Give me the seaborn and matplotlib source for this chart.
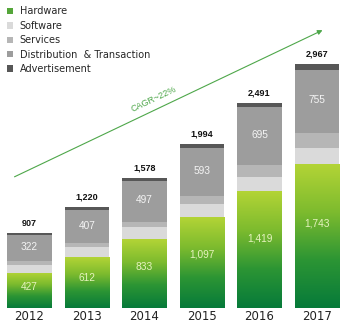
import matplotlib
matplotlib.use("Agg")
import matplotlib.pyplot as plt
import seaborn as sns
import numpy as np
import pandas as pd
from matplotlib.colors import LinearSegmentedColormap
from matplotlib.patches import Patch

years = ["2012", "2013", "2014", "2015", "2016", "2017"]
hardware = [427, 612, 833, 1097, 1419, 1743]
software = [95, 125, 148, 160, 170, 200]
services = [45, 48, 65, 95, 150, 185]
distribution = [322, 407, 497, 593, 695, 755]
advertisement = [18, 28, 35, 49, 57, 84]
totals = [907, 1220, 1578, 1994, 2491, 2967]
series_names = ["Hardware", "Software", "Services", "Distribution  & Transaction", "Advertisement"]
cagr_label = "CAGR~22%"

sns.set_theme(style="white")
plt.rcParams['font.family'] = ['DejaVu Sans']

df = pd.DataFrame({"year": years, "Hardware": hardware, "Software": software,
                   "Services": services, "Distribution": distribution,
                   "Advertisement": advertisement})
df["c_hw"] = df["Hardware"]
df["c_sw"] = df["c_hw"] + df["Software"]
df["c_sv"] = df["c_sw"] + df["Services"]
df["c_di"] = df["c_sv"] + df["Distribution"]
df["c_ad"] = df["c_di"] + df["Advertisement"]

colors = {"hw": "#55a63a", "sw": "#dadada", "sv": "#b6b6b6", "di": "#9d9d9d", "ad": "#575757"}

fig = plt.figure(figsize=(3.5, 3.28), dpi=100)
ax = fig.add_axes([0.002, 0.062, 0.986, 0.938])

for col, key in [("c_ad", "ad"), ("c_di", "di"), ("c_sv", "sv"), ("c_sw", "sw"), ("c_hw", "hw")]:
    sns.barplot(data=df, x="year", y=col, color=colors[key], width=0.78, linewidth=0,
                saturation=1, errorbar=None, ax=ax)

# gradient fill for hardware bars
cmap = LinearSegmentedColormap.from_list("hw", ["#067a3a", "#2c9534", "#7dbb2e", "#b3d436"])
grad = np.linspace(0, 1, 256).reshape(-1, 1)
hw_patches = ax.patches[-len(years):]
for p in hw_patches:
    x0, y0 = p.get_x(), p.get_y()
    w, h = p.get_width(), p.get_height()
    im = ax.imshow(grad, extent=[x0, x0 + w, y0, y0 + h], origin="lower", aspect="auto",
                   cmap=cmap, zorder=p.get_zorder() + 0.1)
    im.set_clip_path(p)

ax.set_xlim(-0.5, len(years) - 0.5)
ax.set_ylim(0, 3740)

lab_font = ['Liberation Sans', 'DejaVu Sans']
for i in range(len(years)):
    ax.text(i, totals[i] + 120, f"{totals[i]:,}", ha="center", va="center", family=lab_font,
            fontsize=6.5, fontweight="bold", color="#111111", zorder=10)
    ax.text(i, hardware[i] * 0.59, f"{hardware[i]:,}", ha="center", va="center", family=lab_font,
            fontsize=7.3, color="#e6f3bf", zorder=10)
    base = df["c_sv"][i]
    ax.text(i, base + distribution[i] * 0.52, f"{distribution[i]:,}", ha="center", va="center",
            family=lab_font, fontsize=7.3, color="#f4f4f4", zorder=10)

ax.set_xlabel("")
ax.set_ylabel("")
ax.set_yticks([])
ax.tick_params(axis="x", length=0, labelsize=8.5, pad=2, colors="#222222")
sns.despine(ax=ax, left=True, bottom=True)

# CAGR arrow
ax.annotate("", xy=(325, 299), xytext=(12, 150), xycoords="figure pixels",
            textcoords="figure pixels",
            arrowprops=dict(arrowstyle="-|>", color="#4ea74a", lw=0.8, mutation_scale=7))
fig.text(154 / 350, 229 / 328, cagr_label, rotation=25.4, ha="center", va="center",
         fontsize=6.5, color="#4ea74a", family=lab_font)

handles = [Patch(facecolor=c, edgecolor="none") for c in
           [colors["hw"], colors["sw"], colors["sv"], colors["di"], colors["ad"]]]
ax.legend(handles, series_names, loc="upper left", bbox_to_anchor=(0.02, 0.981),
          bbox_transform=fig.transFigure, frameon=False, fontsize=7,
          handlelength=0.65, handleheight=0.65, handletextpad=0.65, labelspacing=0.46,
          borderaxespad=0, borderpad=0)

fig.savefig("out.png", dpi=100)
